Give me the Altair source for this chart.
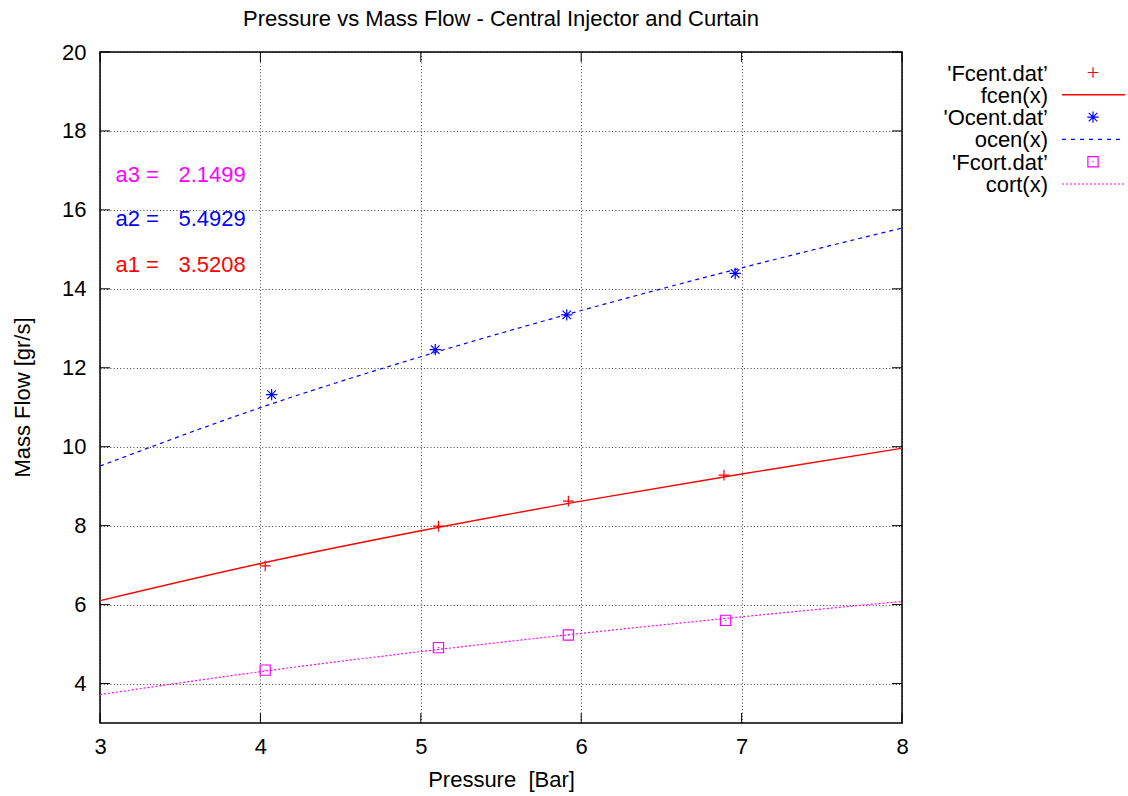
import altair as alt
import pandas as pd

# ---- data ----
fcent_p = [4.03, 5.11, 5.92, 6.89]
fcent_m = [6.98, 7.99, 8.62, 9.28]
ocent_p = [4.07, 5.09, 5.91, 6.96]
ocent_m = [11.32, 12.46, 13.34, 14.39]
fcort_p = [4.03, 5.11, 5.92, 6.90]
fcort_m = [4.34, 4.91, 5.23, 5.60]

fit_p = [3, 4, 5, 6, 7, 8]
fcen_fit = [6.10, 7.04, 7.87, 8.62, 9.31, 9.96]
ocen_fit = [9.51, 10.99, 12.28, 13.45, 14.53, 15.54]
cort_fit = [3.72, 4.30, 4.81, 5.27, 5.69, 6.08]

x_ticks = [3, 4, 5, 6, 7, 8]
y_ticks = [4, 6, 8, 10, 12, 14, 16, 18, 20]

chart_title = "Pressure vs Mass Flow - Central Injector and Curtain"
legend_labels = ["'Fcent.dat\u2019", "fcen(x)", "'Ocent.dat\u2019", "ocen(x)", "'Fcort.dat\u2019", "cort(x)"]
coef_names = ["a3 =", "a2 =", "a1 ="]
coef_values = ["2.1499", "5.4929", "3.5208"]

RED, BLUE, MAG = "#ff0000", "#0000ff", "#ff00ff"
FONT = "Liberation Sans"
FS = 22
W, H = 802, 671

PLUS = "M-1,0L1,0M0,-1L0,1"
STAR = "M-1,0L1,0M0,-1L0,1M-0.75,-0.75L0.75,0.75M-0.75,0.75L0.75,-0.75"
SQUARE = "M-1,-1L1,-1L1,1L-1,1Z M-0.12,0L0.12,0"

xs = alt.Scale(domain=[3, 8], nice=False, zero=False)
ys = alt.Scale(domain=[3, 20], nice=False, zero=False)


def df(x, y):
    return pd.DataFrame({"x": x, "y": y})


def X():
    return alt.X("x:Q", scale=xs)


def Y():
    return alt.Y("y:Q", scale=ys)


GRID = dict(grid=True, gridDash=[1, 2.3], gridColor="#000000", gridOpacity=0.75, gridWidth=1)

x_axis = alt.Axis(values=x_ticks, format="d", title="Pressure \u00a0[Bar]", ticks=False, tickSize=0,
                  domain=False, labelFontSize=FS, labelFont=FONT, labelColor="black",
                  labelPadding=13, labelFlush=False, titleFontSize=FS, titleFont=FONT,
                  titleFontWeight="normal", titleColor="black", titleX=W / 2, titleY=63,
                  titleBaseline="alphabetic", titleAlign="center", **GRID)
y_axis = alt.Axis(values=y_ticks, format="d", title="Mass Flow [gr/s]", ticks=False, tickSize=0,
                  domain=False, labelFontSize=FS, labelFont=FONT, labelColor="black",
                  labelPadding=14, labelFlush=False, titleFontSize=FS, titleFont=FONT,
                  titleFontWeight="normal", titleColor="black", titleX=-71, titleY=345,
                  titleAngle=-90, titleBaseline="alphabetic", titleAlign="center", **GRID)

layers = []

# fit lines (first layer carries the axes)
layers.append(alt.Chart(df(fit_p, fcen_fit)).mark_line(color=RED, strokeWidth=1.4, interpolate="monotone", clip=True)
              .encode(x=alt.X("x:Q", scale=xs, axis=x_axis), y=alt.Y("y:Q", scale=ys, axis=y_axis)))
layers.append(alt.Chart(df(fit_p, ocen_fit)).mark_line(color=BLUE, strokeWidth=1.2, strokeDash=[4, 4], interpolate="monotone", clip=True)
              .encode(x=X(), y=Y()))
layers.append(alt.Chart(df(fit_p, cort_fit)).mark_line(color=MAG, strokeWidth=1.2, strokeDash=[2, 2], interpolate="monotone", clip=True)
              .encode(x=X(), y=Y()))

# data points
for px, py, shape, col, size in [(fcent_p, fcent_m, PLUS, RED, 115),
                                  (ocent_p, ocent_m, STAR, BLUE, 130),
                                  (fcort_p, fcort_m, SQUARE, MAG, 105)]:
    layers.append(alt.Chart(df(px, py)).mark_point(shape=shape, filled=False, color=col, strokeWidth=1.2,
                                                   size=size, opacity=1)
                  .encode(x=X(), y=Y()))

# inward ticks on all four sides
xt = pd.DataFrame({"x": x_ticks})
yt = pd.DataFrame({"y": y_ticks})
TL = 10
layers.append(alt.Chart(xt).mark_rule(color="black", strokeWidth=1)
              .encode(x=X(), y=alt.value(H), y2=alt.value(H - TL)))
layers.append(alt.Chart(xt).mark_rule(color="black", strokeWidth=1)
              .encode(x=X(), y=alt.value(0), y2=alt.value(TL)))
layers.append(alt.Chart(yt).mark_rule(color="black", strokeWidth=1)
              .encode(y=Y(), x=alt.value(0), x2=alt.value(TL)))
layers.append(alt.Chart(yt).mark_rule(color="black", strokeWidth=1)
              .encode(y=Y(), x=alt.value(W), x2=alt.value(W - TL)))

one = pd.DataFrame({"a": [0]})

# chart title
layers.append(alt.Chart(one).mark_text(text=chart_title, align="center", baseline="alphabetic", font=FONT,
                                       fontSize=FS, color="black")
              .encode(x=alt.value(W / 2), y=alt.value(26 - 52)))

# coefficient annotations
coef_cols = [MAG, BLUE, RED]
coef_base = [129.7, 174.0, 219.7]
for name, val, col, yb in zip(coef_names, coef_values, coef_cols, coef_base):
    layers.append(alt.Chart(one).mark_text(text=name, align="left", baseline="alphabetic", font=FONT,
                                           fontSize=FS, color=col)
                  .encode(x=alt.value(15.5), y=alt.value(yb)))
    layers.append(alt.Chart(one).mark_text(text=val, align="left", baseline="alphabetic", font=FONT,
                                           fontSize=FS, color=col)
                  .encode(x=alt.value(78.5), y=alt.value(yb)))

# manual key (labels left, samples right)
row0, step = 20.5, 22.3
key_items = [("point", PLUS, RED, None, 115), ("line", None, RED, None, None),
             ("point", STAR, BLUE, None, 130), ("line", None, BLUE, [4, 5], None),
             ("point", SQUARE, MAG, None, 105), ("line", None, MAG, [2, 2], None)]
for i, (lab, item) in enumerate(zip(legend_labels, key_items)):
    yc = row0 + step * i
    layers.append(alt.Chart(one).mark_text(text=lab, align="right", baseline="alphabetic", font=FONT,
                                           fontSize=FS, color="black")
                  .encode(x=alt.value(948), y=alt.value(yc + 8)))
    kind, shape, col, dash, size = item
    if kind == "point":
        layers.append(alt.Chart(one).mark_point(shape=shape, filled=False, color=col, strokeWidth=1.2,
                                                size=size, opacity=1)
                      .encode(x=alt.value(993), y=alt.value(yc)))
    else:
        mk = dict(color=col, strokeWidth=1.4 if dash is None else 1.2)
        if dash is not None:
            mk["strokeDash"] = dash
        layers.append(alt.Chart(one).mark_rule(**mk)
                      .encode(x=alt.value(962), x2=alt.value(1025), y=alt.value(yc)))

chart = alt.layer(*layers).properties(
    width=W, height=H,
    autosize=alt.AutoSizeParams(type="none"),
    padding={"left": 100, "top": 52, "right": 1128 - 100 - W, "bottom": 796 - 52 - H},
).configure(background="white").configure_view(stroke="black", strokeWidth=1.5)

chart.save("out.html", embed_options={"renderer": "svg", "actions": False})
